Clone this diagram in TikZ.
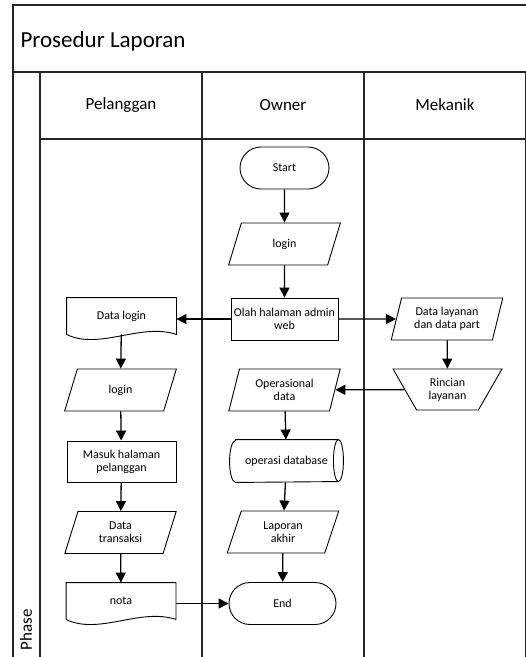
\documentclass[tikz,border=0pt]{standalone}
\usepackage{fontspec}
\setmainfont{Carlito}
\usetikzlibrary{shapes.geometric,shapes.misc,arrows.meta}
\begin{document}
\begin{tikzpicture}[x=1pt,y=-1pt,
  frame/.style={draw=black!85, line width=1.5pt},
  nd/.style={draw=black, line width=0.9pt, font=\fontsize{12}{13}\selectfont, align=center, inner sep=1pt},
  procbox/.style={nd, rectangle, minimum width=107pt, minimum height=42pt},
  term/.style={nd, rounded rectangle, minimum width=100pt, minimum height=42pt},
  io/.style={nd, trapezium, trapezium left angle=73, trapezium right angle=107, trapezium stretches=true, minimum width=112pt, minimum height=42pt},
  manop/.style={nd, trapezium, trapezium left angle=59, trapezium right angle=59, shape border rotate=180, trapezium stretches=true, minimum width=109pt, minimum height=41pt},
  docbox/.style={nd, draw=none, rectangle, minimum width=109pt, minimum height=36pt},
  dbbox/.style={nd, draw=none, rectangle, minimum width=113pt, minimum height=42pt},
  arr/.style={draw=black, line width=1.3pt, -{Triangle[length=10pt,width=10pt]}},
  outline/.style={draw=black, line width=0.9pt}
]
\useasboundingbox (0,0) rectangle (526,657);
\clip (0,0) rectangle (526,657);
\fill[white] (0,0) rectangle (526,657);

% frame
\draw[frame] (13,680) -- (13,5) -- (560,5);
\draw[frame] (13,72) -- (560,72);
\draw[frame] (40,72) -- (40,680);
\draw[frame] (40,139) -- (560,139);
\draw[frame] (202,72) -- (202,680);
\draw[frame] (364,72) -- (364,680);
\draw[frame] (526,72) -- (526,680);

\node[anchor=west, font=\fontsize{23}{25}\selectfont] (title) at (17,41) {Prosedur Laporan};
\node[font=\fontsize{17}{19}\selectfont] (hp) at (121,105) {Pelanggan};
\node[font=\fontsize{17}{19}\selectfont] (ho) at (283,105) {Owner};
\node[font=\fontsize{17}{19}\selectfont] (hm) at (445,105) {Mekanik};
\node[rotate=90, font=\fontsize{17}{19}\selectfont, anchor=west] (phase) at (26,654) {Phase};

% owner lane
\node[term, minimum width=91pt] (start) at (284.5,168) {Start};
\node[io] (ologin) at (284.5,244) {login};
\node[procbox] (olah) at (284.5,319) {Olah halaman admin\\web};
\node[io] (opdata) at (284.5,390) {Operasional\\data};
\node[dbbox] (db) at (286.5,461) {operasi database};
\draw[outline] ([xshift=6pt]db.north west) -- ([xshift=-5pt]db.north east)
  arc (90:-90:5pt and 21pt) -- ([xshift=6pt]db.south west)
  arc (270:90:6pt and 21pt) -- cycle;
\draw[outline] ([xshift=-5pt]db.north east) arc (90:270:5pt and 21pt);
\node[io] (lap) at (283,532) {Laporan\\akhir};
\node[term, minimum width=109pt] (endn) at (282.5,603.5) {End};

% mekanik lane
\node[io] (dlay) at (447,319) {Data layanan\\dan data part};
\node[manop] (rinc) at (447.5,389.5) {Rincian\\layanan};

% pelanggan lane
\node[docbox] (dlog) at (121.5,316) {Data login};
\draw[outline] (dlog.south west) -- (dlog.north west) -- (dlog.north east) -- (dlog.south east)
  .. controls ([shift={(-36pt,12pt)}]dlog.south east) and ([shift={(33pt,-16pt)}]dlog.south west) .. (dlog.south west);
\node[io] (plogin) at (120.5,390) {login};
\node[procbox, minimum width=109pt, minimum height=41pt] (masuk) at (121.5,461.5) {Masuk halaman\\pelanggan};
\node[io] (dtr) at (120.5,532.5) {Data\\transaksi};
\node[docbox] (nota) at (121,601) {nota};
\draw[outline] (nota.south west) -- (nota.north west) -- (nota.north east) -- (nota.south east)
  .. controls ([shift={(-36pt,12pt)}]nota.south east) and ([shift={(33pt,-16pt)}]nota.south west) .. (nota.south west);

% connectors
\draw[arr] (start) -- (ologin);
\draw[arr] (ologin) -- (olah);
\draw[arr] (olah.west) -- (olah.west -| dlog.east);
\draw[arr] (olah) -- (dlay);
\draw[arr] (dlay) -- (rinc);
\draw[arr] (rinc) -- (opdata);
\draw[arr] (opdata) -- (db);
\draw[arr] (db) -- (lap);
\draw[arr] (lap) -- (endn);
\draw[arr] (dlog) -- (plogin);
\draw[arr] (plogin) -- (masuk);
\draw[arr] (masuk) -- (dtr);
\draw[arr] (dtr) -- (nota);
\draw[arr] (nota.east |- endn) -- (endn);
\end{tikzpicture}
\end{document}
